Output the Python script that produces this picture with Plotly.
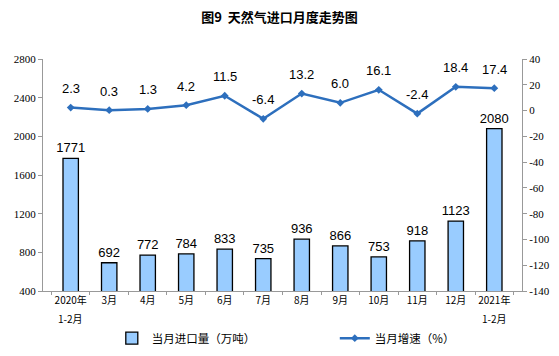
import plotly.graph_objects as go

categories = ["2020年1-2月", "3月", "4月", "5月", "6月", "7月", "8月", "9月", "10月", "11月", "12月", "2021年1-2月"]
tick_top = ["2020年", "3月", "4月", "5月", "6月", "7月", "8月", "9月", "10月", "11月", "12月", "2021年"]
tick_bottom = ["1-2月", "", "", "", "", "", "", "", "", "", "", "1-2月"]
import_volume = [1771, 692, 772, 784, 833, 735, 936, 866, 753, 918, 1123, 2080]
growth_rate = [2.3, 0.3, 1.3, 4.2, 11.5, -6.4, 13.2, 6.0, 16.1, -2.4, 18.4, 17.4]
left_ticks = [400, 800, 1200, 1600, 2000, 2400, 2800]
right_ticks = [-140, -120, -100, -80, -60, -40, -20, 0, 20, 40]

label_font = dict(family="Liberation Sans, Arial", size=13, color="#000")
axis_font = dict(family="Liberation Serif, serif", size=11, color="#000")
cat_font = dict(family="Noto Sans CJK SC", size=10, color="#000")

fig = go.Figure()
fig.add_trace(go.Bar(
    x=categories, y=import_volume, name="当月进口量（万吨）",
    marker=dict(color="#99CCFF", line=dict(color="#000000", width=1.3)),
    width=0.4,
    text=[str(v) for v in import_volume], textposition="outside",
    constraintext="none",
    textfont=label_font,
    cliponaxis=False,
))
fig.add_trace(go.Scatter(
    x=categories, y=growth_rate, name="当月增速（%）", yaxis="y2",
    mode="lines+markers",
    line=dict(color="#2D6FBD", width=2.5),
    marker=dict(symbol="diamond", size=6, color="#2D6FBD"),
    cliponaxis=False,
))
for c, v in zip(categories, growth_rate):
    fig.add_annotation(x=c, y=v, xref="x", yref="y2", text=f"{v:.1f}",
                       showarrow=False, yshift=19, font=label_font)
for c, t in zip(categories, tick_bottom):
    if t:
        fig.add_annotation(x=c, y=0, xref="x", yref="paper", text=t,
                           showarrow=False, yanchor="middle", yshift=-27, font=cat_font)

fig.update_layout(
    width=559, height=356,
    margin=dict(l=43, r=37, t=59, b=65, autoexpand=False),
    paper_bgcolor="white", plot_bgcolor="white",
    title=dict(text="<b>图9  天然气进口月度走势图</b>", x=0.5, xanchor="center",
               yref="container", y=0.95, yanchor="middle",
               font=dict(family="Noto Sans CJK SC", size=13, color="#000")),
    showlegend=True,
    legend=dict(orientation="h", xref="container", x=0.2, xanchor="left",
                yref="container", y=0.05, yanchor="middle",
                font=dict(family="Noto Sans CJK SC", size=11.5, color="#000"),
                itemwidth=30, entrywidth=178, entrywidthmode="pixels", tracegroupgap=0),
    xaxis=dict(
        tickvals=categories, ticktext=tick_top,
        showline=True, linecolor="#999999", linewidth=1,
        ticks="outside", ticklen=3, tickcolor="#999999", tickson="boundaries",
        tickfont=cat_font,
        tickangle=0, automargin=False,
        showgrid=False,
    ),
    yaxis=dict(
        range=[400, 2800], tickvals=left_ticks, ticktext=[str(v) for v in left_ticks],
        showline=True, linecolor="#999999", linewidth=1,
        ticks="outside", ticklen=4, tickcolor="#999999", automargin=False,
        tickfont=axis_font,
        showgrid=False, zeroline=False,
    ),
    yaxis2=dict(
        range=[-140, 40], tickvals=right_ticks, ticktext=[str(v) for v in right_ticks],
        overlaying="y", side="right",
        showline=True, linecolor="#999999", linewidth=1,
        ticks="outside", ticklen=4, tickcolor="#999999", automargin=False,
        tickfont=axis_font,
        showgrid=False, zeroline=False,
    ),
)

fig.write_html("out.html", config={"displayModeBar": False},
               post_script="document.body.style.margin='0';")
